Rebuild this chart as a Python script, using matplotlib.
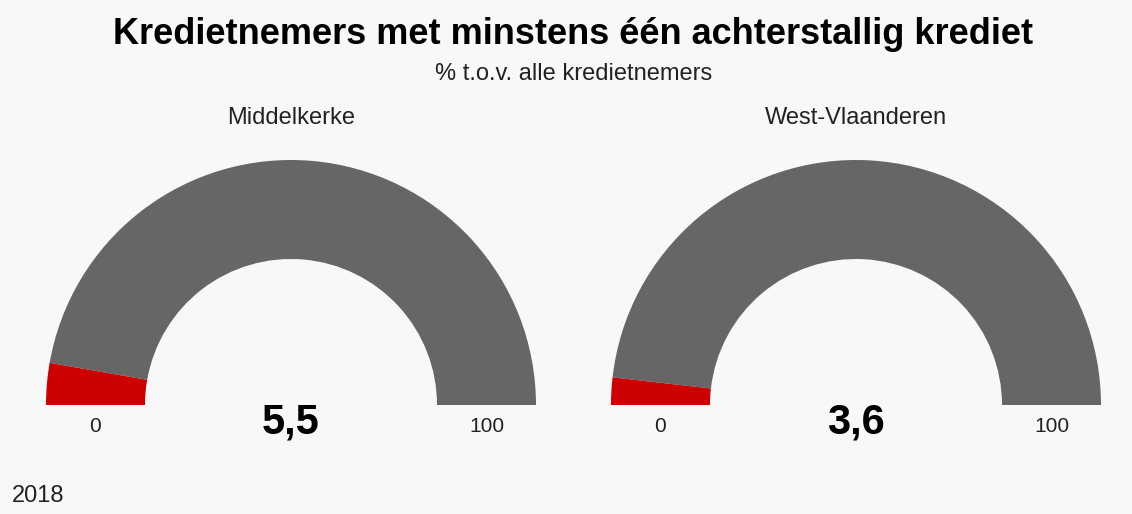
import matplotlib.pyplot as plt
from matplotlib.patches import Wedge

plt.rcParams['font.family'] = ['Liberation Sans', 'DejaVu Sans']

# data
regions = ["Middelkerke", "West-Vlaanderen"]
values = [5.5, 3.6]
value_labels = ["5,5", "3,6"]
scale_min = 0
scale_max = 100
year = "2018"

W, H = 1132, 514
fig = plt.figure(figsize=(W / 100, H / 100), dpi=100, facecolor="#f8f8f8")
ax = fig.add_axes([0, 0, 1, 1])
ax.set_xlim(0, W)
ax.set_ylim(0, H)
ax.set_facecolor("#f8f8f8")
ax.axis("off")

centers_x = [291, 856]
cy = H - 405
r_out, r_in = 245, 146

for cx, name, val, lab in zip(centers_x, regions, values, value_labels):
    frac = (val - scale_min) / (scale_max - scale_min)
    split = 180 - 180 * frac
    ax.add_patch(Wedge((cx, cy), r_out, 0, split, width=r_out - r_in,
                       facecolor="#666666", edgecolor="none"))
    ax.add_patch(Wedge((cx, cy), r_out, split, 180, width=r_out - r_in,
                       facecolor="#cc0000", edgecolor="none"))
    ax.text(cx, H - 118, name, ha="center", va="center", fontsize=17, color="#222222")
    ax.text(cx, H - 422, lab, ha="center", va="center", fontsize=30,
            fontweight="bold", color="#000000")
    ax.text(cx - 196, H - 426, str(scale_min), ha="center",
            va="center", fontsize=15, color="#222222")
    ax.text(cx + 196, H - 426, str(scale_max), ha="center",
            va="center", fontsize=15, color="#222222")

ax.text(W / 2 + 7, H - 35, "Kredietnemers met minstens één achterstallig krediet",
        ha="center", va="center", fontsize=26, fontweight="bold", color="#000000")
ax.text(W / 2 + 8, H - 74, "% t.o.v. alle kredietnemers", ha="center", va="center",
        fontsize=17, color="#222222")
ax.text(12, H - 496, year, ha="left", va="center", fontsize=17, color="#222222")

fig.savefig("out.png", dpi=100, facecolor=fig.get_facecolor())
